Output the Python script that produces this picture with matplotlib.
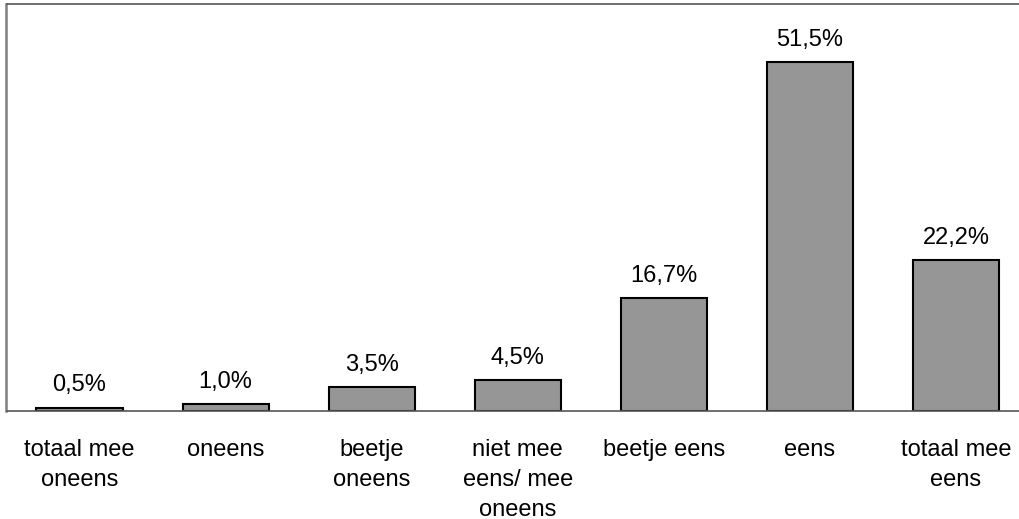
import matplotlib
matplotlib.use("Agg")
import matplotlib.pyplot as plt

categories = ["totaal mee\noneens", "oneens", "beetje\noneens", "niet mee\neens/ mee\noneens",
              "beetje eens", "eens", "totaal mee\neens"]
values = [0.5, 1.0, 3.5, 4.5, 16.7, 51.5, 22.2]
value_labels = ["0,5%", "1,0%", "3,5%", "4,5%", "16,7%", "51,5%", "22,2%"]

plt.rcParams['font.family'] = ['Liberation Sans', 'DejaVu Sans']

W, H = 1020, 519
fig = plt.figure(figsize=(W / 100, H / 100), dpi=100)
x0, x1 = 6.5, 1029
ytop, ybot = 4, 411
ax = fig.add_axes([x0 / W, (H - ybot) / H, (x1 - x0) / W, (ybot - ytop) / H])

pos = list(range(len(categories)))
ax.bar(pos, values, width=0.59, color="#969696", edgecolor="black", linewidth=1.5, zorder=2)
ax.set_xlim(-0.5, len(categories) - 0.5)
ax.set_ylim(0, 60)

for p, v, lab in zip(pos, values, value_labels):
    ax.annotate(lab, (p, v), xytext=(0, 8), textcoords="offset points",
                ha="center", va="bottom", fontsize=17, color="black")

ax.set_xticks(pos)
ax.set_xticklabels(categories, fontsize=17, linespacing=1.45)
ax.tick_params(axis="x", length=0, pad=20.5)
ax.set_yticks([])

for s in ["top", "bottom"]:
    ax.spines[s].set_color("#555555")
    ax.spines[s].set_linewidth(1.2)
ax.spines["right"].set_visible(False)
ax.spines["left"].set_color("#808080")
ax.spines["left"].set_linewidth(1.8)

fig.savefig("out.png", dpi=100)
